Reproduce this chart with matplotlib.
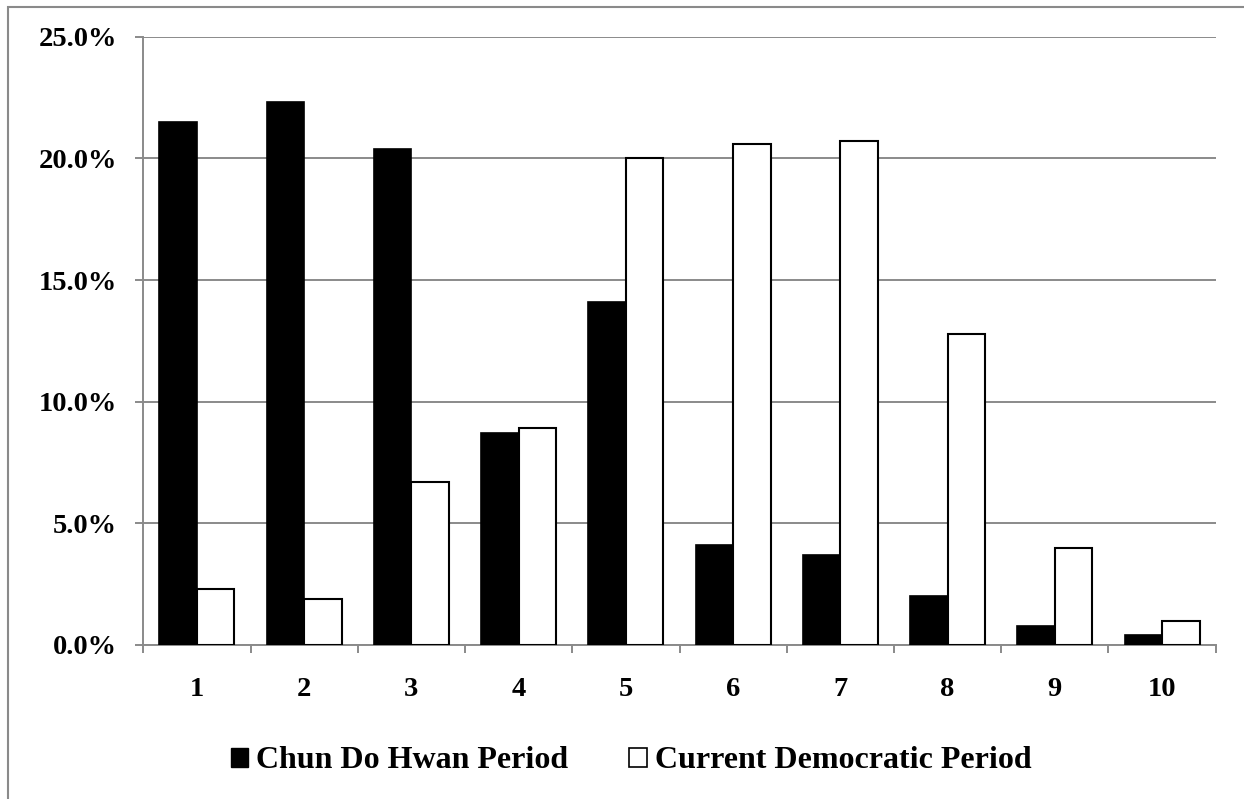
import numpy as np
import matplotlib
matplotlib.use("Agg")
import matplotlib.pyplot as plt
from matplotlib.patches import Patch, Rectangle
from matplotlib.ticker import PercentFormatter

plt.rcParams['font.family'] = 'Liberation Serif'
plt.rcParams['font.weight'] = 'bold'

# Share of cases by category, in percent
categories = ['1', '2', '3', '4', '5', '6', '7', '8', '9', '10']
chun_period = [21.5, 22.3, 20.4, 8.7, 14.1, 4.1, 3.7, 2.0, 0.8, 0.4]
democratic_period = [2.3, 1.9, 6.7, 8.9, 20.0, 20.6, 20.7, 12.8, 4.0, 1.0]
series_names = ['Chun Do Hwan Period', 'Current Democratic Period']

grid_gray = '#8a8a8a'
fs = 20.5
fs_legend = 23

fig = plt.figure(figsize=(12.44, 7.99), dpi=100)
ax = fig.add_axes([143.3 / 1244, 1 - 645 / 799, 1072.4 / 1244, 608.3 / 799])

x = np.arange(len(categories))
w = 0.35
ax.bar(x - w / 2, chun_period, w, color='black', edgecolor='black', linewidth=1.2, zorder=3)
ax.bar(x + w / 2, democratic_period, w, color='white', edgecolor='black', linewidth=1.5, zorder=3)

ax.set_xlim(-0.5, len(categories) - 0.5)
ax.set_ylim(0, 25)
ax.set_yticks(np.arange(0, 25.1, 5))
ax.yaxis.set_major_formatter(PercentFormatter(decimals=1))
ax.set_xticks(x)
ax.set_xticklabels(categories)
ax.set_xticks(np.arange(-0.5, len(categories)), minor=True)

ax.grid(axis='y', color=grid_gray, linewidth=1.4, zorder=0)
for side in ['top', 'right']:
    ax.spines[side].set_visible(False)
for side in ['left', 'bottom']:
    ax.spines[side].set_color(grid_gray)
    ax.spines[side].set_linewidth(1.4)

ax.tick_params(axis='y', length=6, width=1.4, color=grid_gray, pad=13, labelsize=fs)
ax.tick_params(axis='x', which='major', length=0, pad=23, labelsize=fs)
ax.tick_params(axis='x', which='minor', length=6, width=1.4, color=grid_gray)
for lbl in ax.get_xticklabels() + ax.get_yticklabels():
    lbl.set_fontweight('bold')

handles = [Patch(facecolor='black', edgecolor='black'),
           Patch(facecolor='white', edgecolor='black', linewidth=1.2)]
fig.legend(handles, series_names, loc='center', bbox_to_anchor=(631 / 1244, 1 - 761 / 799),
           ncol=2, frameon=False, prop={'size': fs_legend, 'weight': 'bold'},
           handlelength=0.55, handleheight=0.55, handletextpad=0.25, columnspacing=1.9)

# outer chart frame
fig.add_artist(Rectangle((8 / 1244, -0.1), 1.2, 1.1 - 7 / 799, transform=fig.transFigure,
                         fill=False, edgecolor=grid_gray, linewidth=1.5, clip_on=False))

fig.savefig('out.png', dpi=100)
